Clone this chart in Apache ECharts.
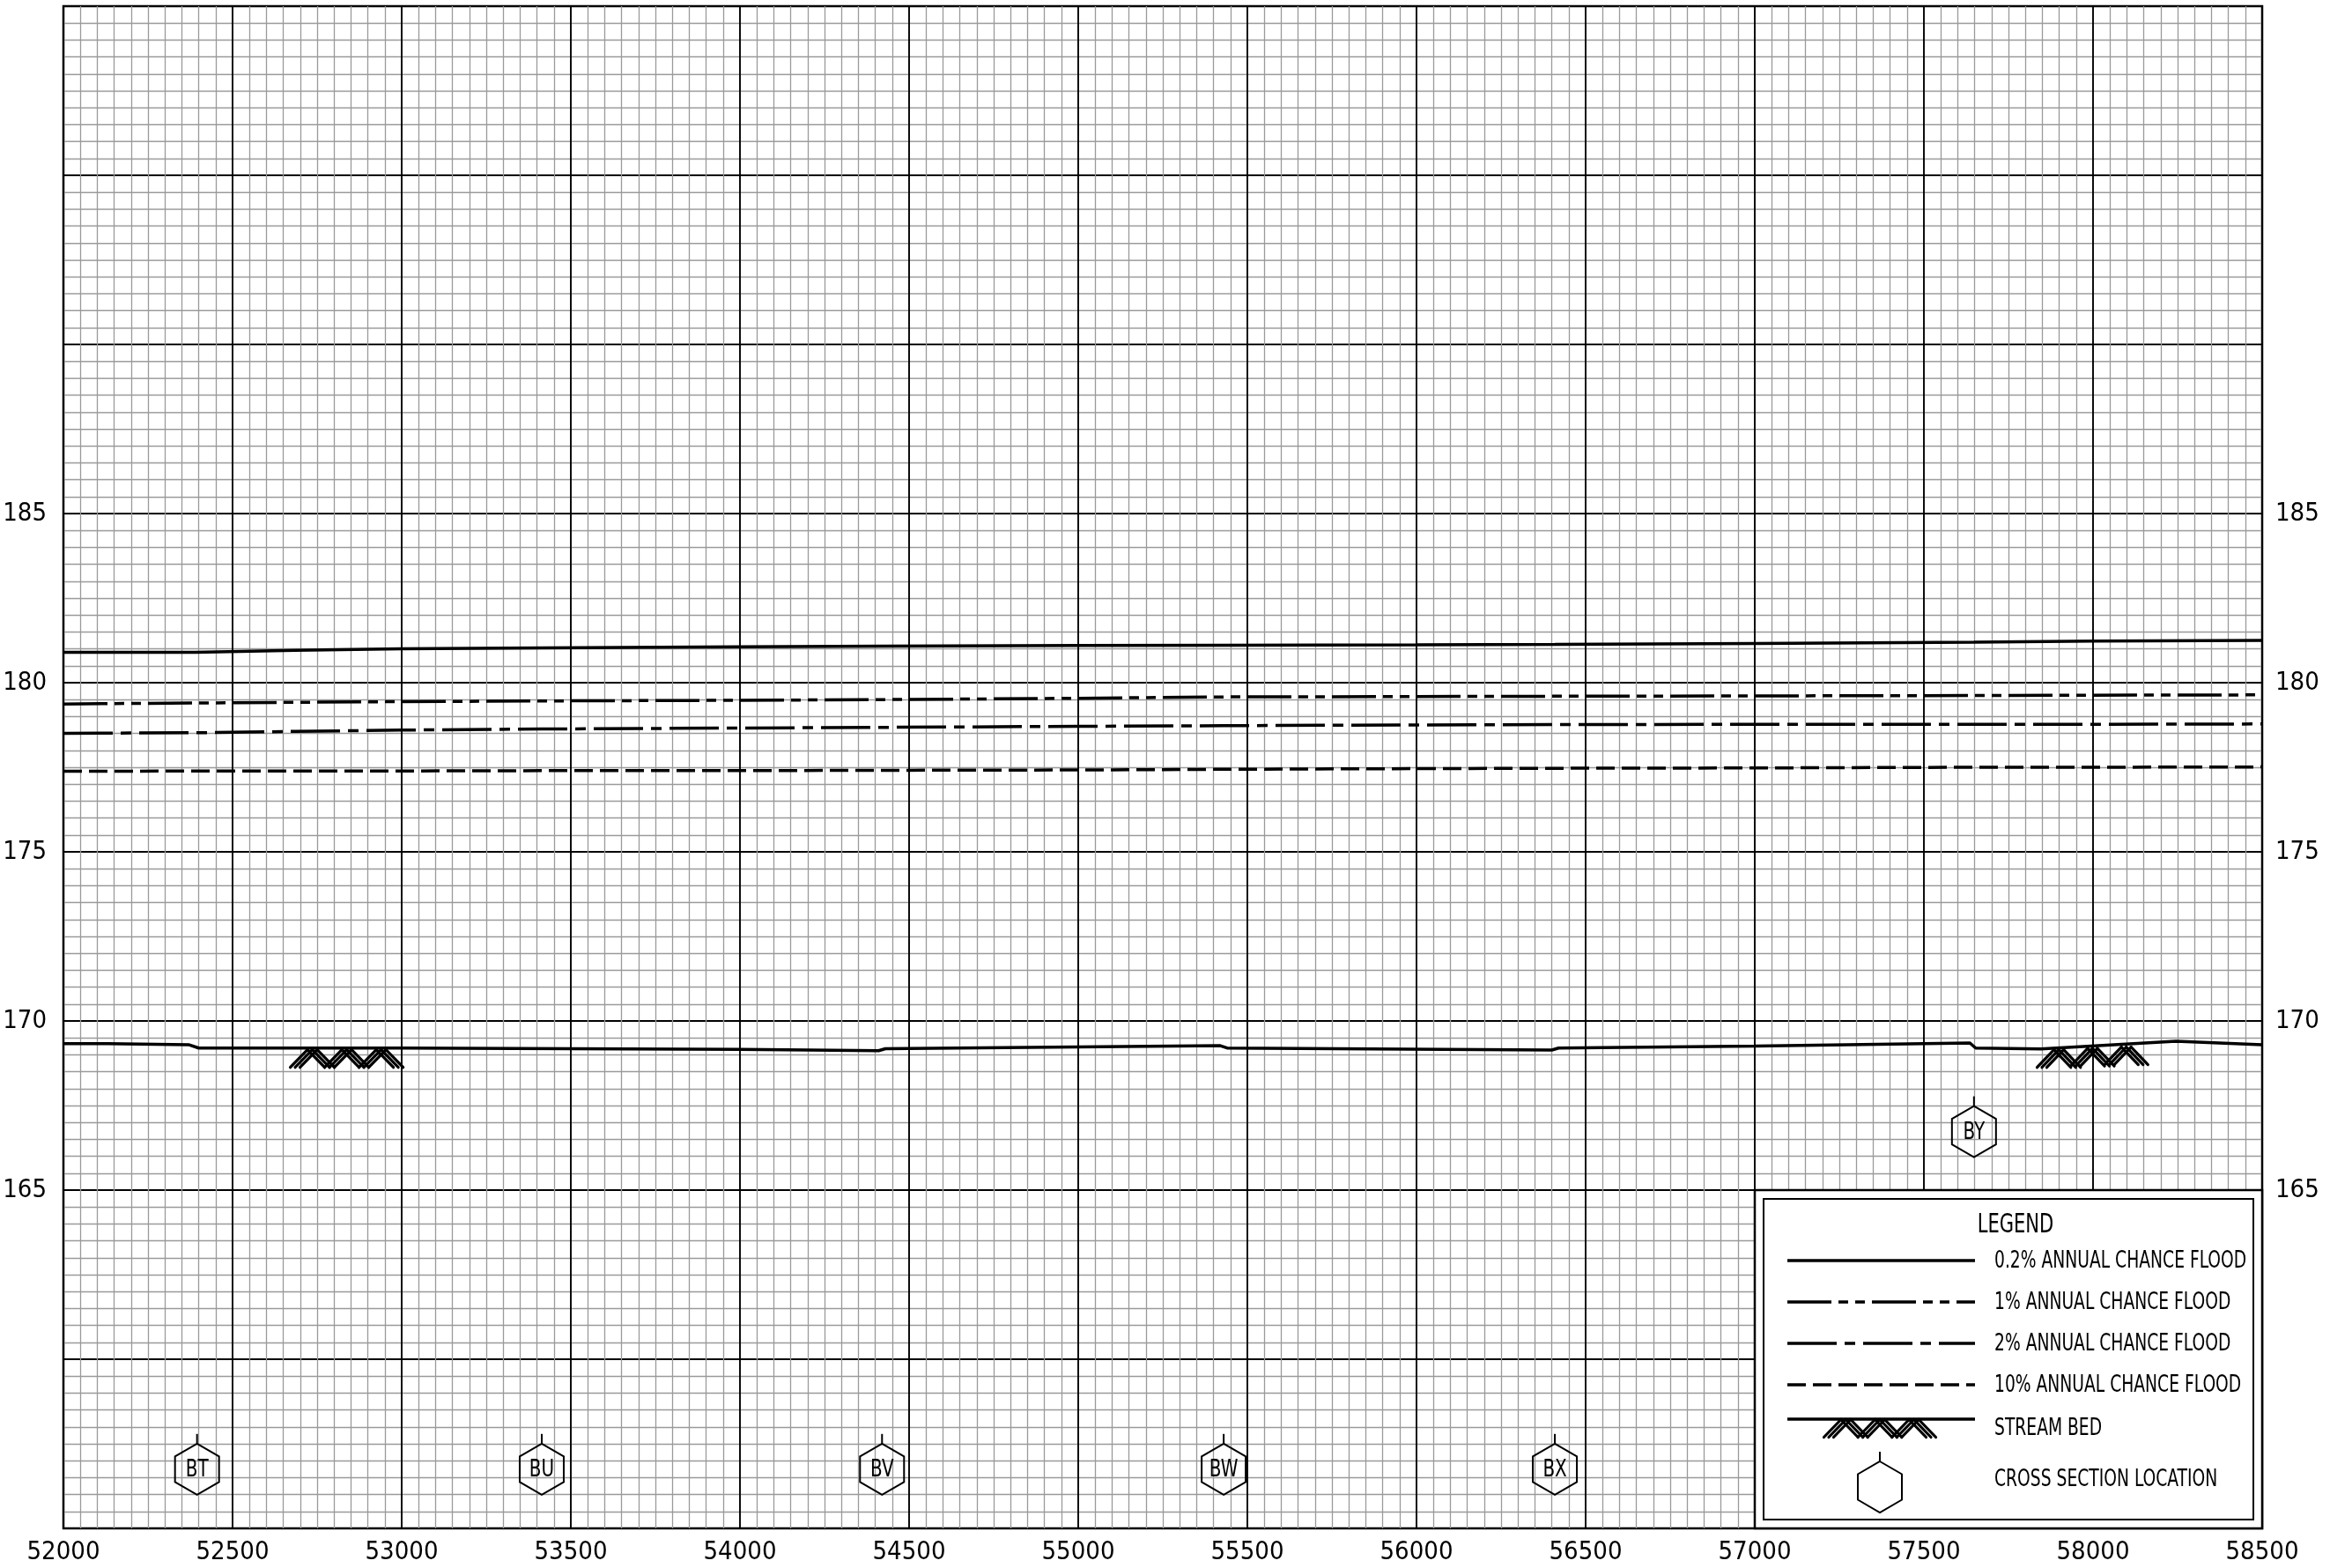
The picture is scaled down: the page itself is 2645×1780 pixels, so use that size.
<!DOCTYPE html>
<html><head><meta charset="utf-8">
<script src="https://cdn.jsdelivr.net/npm/echarts@6/dist/echarts.min.js"></script>
<style>html,body{margin:0;padding:0;background:#fff}#c{width:2645px;height:1780px}</style>
</head><body><div id="c"></div>
<script>
const FONT = '"Liberation Sans Narrow","DejaVu Sans Condensed","Arial Narrow",sans-serif';

// ---- data ----
const stations = [52000, 52112, 52390, 52685, 53000, 53414, 54000, 54420, 55000, 55430, 56000, 56409, 57000, 57648, 58000, 58500];
const flood02  = [180.90, 180.90, 180.90, 180.96, 181.00, 181.03, 181.06, 181.08, 181.10, 181.11, 181.12, 181.13, 181.16, 181.20, 181.23, 181.25];
const flood1   = [179.37, 179.38, 179.40, 179.42, 179.44, 179.46, 179.48, 179.50, 179.54, 179.58, 179.59, 179.60, 179.61, 179.62, 179.63, 179.64];
const flood2   = [178.50, 178.51, 178.52, 178.56, 178.60, 178.63, 178.66, 178.68, 178.71, 178.73, 178.75, 178.76, 178.77, 178.77, 178.77, 178.78];
const flood10  = [177.38, 177.38, 177.39, 177.39, 177.39, 177.40, 177.40, 177.41, 177.42, 177.44, 177.46, 177.47, 177.48, 177.50, 177.50, 177.51];

const bedStations = [52000, 52130, 52370, 52400, 53000, 54000, 54410, 54430, 55420, 55440, 56400, 56420, 57000, 57636, 57653, 57846, 58245, 58500];
const bedElev     = [169.33, 169.33, 169.30, 169.20, 169.20, 169.16, 169.12, 169.18, 169.27, 169.20, 169.14, 169.20, 169.26, 169.35, 169.20, 169.17, 169.40, 169.30];

const hatchSegments = [[52685, 169.20, 52990, 169.20], [57849, 169.18, 58148, 169.30]];

const csNames   = ['BT', 'BU', 'BV', 'BW', 'BX', 'BY'];
const csStation = [52395, 53414, 54420, 55430, 56409, 57648];
const csElev    = [156.75, 156.75, 156.75, 156.75, 156.75, 166.73];

const yLabelValues = [165, 170, 175, 180, 185];
const legendTexts = ['0.2% ANNUAL CHANCE FLOOD', '1% ANNUAL CHANCE FLOOD', '2% ANNUAL CHANCE FLOOD', '10% ANNUAL CHANCE FLOOD', 'STREAM BED', 'CROSS SECTION LOCATION'];

// ---- styles ----
const dash1 = [50, 8, 11, 8, 11, 8];
const dash2 = [56, 9, 12, 9];
const dash10 = [21, 8];
const LW = 3.5;

function zip(xs, ys) { return xs.map((x, i) => [x, ys[i]]); }

function hatchLines(x0, y0, x1, y1) {
  const out = [];
  const w = x1 - x0;
  const yAt = x => y0 + (y1 - y0) * (x - x0) / w;
  for (let k = 0; k < 3; k++) {
    const xa = x0 + k * w / 3, xp = xa + w / 6, xb = xa + w / 3;
    for (const o of [-5.5, 0, 5.5]) {
      const yt = yAt(xp) + 2, yb = yAt(xp) + 22;
      out.push({type: 'line', shape: {x1: xa + o, y1: yb, x2: xp + o, y2: yt}, style: {stroke: '#000', lineWidth: 3.2, lineCap: 'round'}});
      out.push({type: 'line', shape: {x1: xp + o, y1: yt, x2: xb + o, y2: yb}, style: {stroke: '#000', lineWidth: 3.2, lineCap: 'round'}});
    }
  }
  return out;
}

function txt(text, x, y, size, sx, align) {
  return {type: 'text', x: x, y: y, scaleX: sx,
    style: {text: text, x: 0, y: 0, font: size + 'px ' + FONT, fill: '#000',
      align: align, verticalAlign: 'middle', textAlign: align, textVerticalAlign: 'middle'}};
}

function hexagon(cx, cy, label) {
  const hw = 25, hh = 29;
  const ch = [
    {type: 'polygon', shape: {points: [[cx, cy - hh], [cx + hw, cy - hh / 2], [cx + hw, cy + hh / 2], [cx, cy + hh], [cx - hw, cy + hh / 2], [cx - hw, cy - hh / 2]]},
     style: {fill: 'rgba(255,255,255,0)', stroke: '#000', lineWidth: 2}},
    {type: 'line', shape: {x1: cx, y1: cy - hh, x2: cx, y2: cy - hh - 11}, style: {stroke: '#000', lineWidth: 2}}
  ];
  if (label) ch.push(txt(label, cx, cy + 1, 27, 0.82, 'center'));
  return ch;
}

const chart = echarts.init(document.getElementById('c'), null, {renderer: 'canvas'});

const axisLabelY = {
  fontSize: 29, color: '#000', fontFamily: FONT,
  formatter: v => yLabelValues.indexOf(v) >= 0 ? String(v) : ''
};

// legend graphics (fixed layout box in lower-right cell block)
const LX0 = 1992, LY0 = 1351, LX1 = 2568, LY1 = 1735;
const lineX0 = 2029, lineX1 = 2242, textX = 2264;
const rowY = [1431, 1478, 1525, 1572];
const dashes = [null, dash1, dash2, dash10];
const legendEls = [
  {type: 'rect', shape: {x: LX0, y: LY0, width: LX1 - LX0, height: LY1 - LY0}, style: {fill: '#fff', stroke: '#000', lineWidth: 2.5}},
  {type: 'rect', shape: {x: LX0 + 10, y: LY0 + 10, width: LX1 - LX0 - 20, height: LY1 - LY0 - 20}, style: {fill: '#fff', stroke: '#000', lineWidth: 2}},
  txt('LEGEND', 2288, 1391, 30, 0.78, 'center')
];
rowY.forEach((y, i) => {
  legendEls.push({type: 'line', shape: {x1: lineX0, y1: y, x2: lineX1, y2: y},
    style: {stroke: '#000', lineWidth: LW, lineDash: dashes[i] || null}});
});
legendEls.push({type: 'line', shape: {x1: lineX0, y1: 1611, x2: lineX1, y2: 1611}, style: {stroke: '#000', lineWidth: LW}});
hatchLines(2076, 1609.5, 2192, 1609.5).forEach(e => legendEls.push(e));
hexagon(2134, 1688, null).forEach(e => legendEls.push(e));
const textY = [1432, 1479, 1526, 1573, 1622, 1680];
legendTexts.forEach((t, i) => legendEls.push(txt(t, textX, textY[i], 26, 0.80, 'left')));
legendEls.forEach(e => { e.z = 100; e.silent = true; });

const option = {
  animation: false,
  backgroundColor: '#fff',
  grid: {left: 72, right: 77, top: 7, bottom: 45, show: true, borderColor: '#000', borderWidth: 2.5, containLabel: false, outerBoundsMode: 'none'},
  xAxis: {
    type: 'value', min: 52000, max: 58500, interval: 500,
    axisLine: {show: false}, axisTick: {show: false},
    axisLabel: {fontSize: 29, color: '#000', fontFamily: FONT, margin: 13, formatter: v => String(v)},
    splitLine: {show: true, lineStyle: {color: '#000', width: 1.9}},
    minorTick: {show: false, splitNumber: 10},
    minorSplitLine: {show: true, lineStyle: {color: '#9a9a9a', width: 1.3}}
  },
  yAxis: [{
    type: 'value', min: 155, max: 200, interval: 5, position: 'left',
    axisLine: {show: false}, axisTick: {show: false},
    axisLabel: Object.assign({margin: 19}, axisLabelY),
    splitLine: {show: true, lineStyle: {color: '#000', width: 1.9}},
    minorTick: {show: false, splitNumber: 10},
    minorSplitLine: {show: true, lineStyle: {color: '#9a9a9a', width: 1.3}}
  }, {
    type: 'value', min: 155, max: 200, interval: 5, position: 'right',
    axisLine: {show: false}, axisTick: {show: false},
    axisLabel: Object.assign({margin: 15}, axisLabelY),
    splitLine: {show: false}
  }],
  graphic: legendEls,
  series: [
    {type: 'line', name: '0.2%', data: zip(stations, flood02), showSymbol: false, z: 10,
     lineStyle: {color: '#000', width: LW}},
    {type: 'line', name: '1%', data: zip(stations, flood1), showSymbol: false, z: 10,
     lineStyle: {color: '#000', width: LW, type: dash1}},
    {type: 'line', name: '2%', data: zip(stations, flood2), showSymbol: false, z: 10,
     lineStyle: {color: '#000', width: LW, type: dash2}},
    {type: 'line', name: '10%', data: zip(stations, flood10), showSymbol: false, z: 10,
     lineStyle: {color: '#000', width: LW, type: dash10}},
    {type: 'line', name: 'bed', data: zip(bedStations, bedElev), showSymbol: false, z: 10,
     lineStyle: {color: '#000', width: LW}},
    {type: 'custom', name: 'hatch', z: 11, data: hatchSegments,
     encode: {x: [0, 2], y: [1, 3]},
     renderItem: function (params, api) {
       const p0 = api.coord([api.value(0), api.value(1)]);
       const p1 = api.coord([api.value(2), api.value(3)]);
       return {type: 'group', children: hatchLines(p0[0], p0[1], p1[0], p1[1])};
     }},
    {type: 'custom', name: 'xs', z: 12, data: csStation.map((s, i) => [s, csElev[i], csNames[i]]),
     encode: {x: 0, y: 1},
     renderItem: function (params, api) {
       const p = api.coord([api.value(0), api.value(1)]);
       return {type: 'group', children: hexagon(p[0], p[1], csNames[params.dataIndex])};
     }}
  ]
};
chart.setOption(option);
</script>
</body></html>
